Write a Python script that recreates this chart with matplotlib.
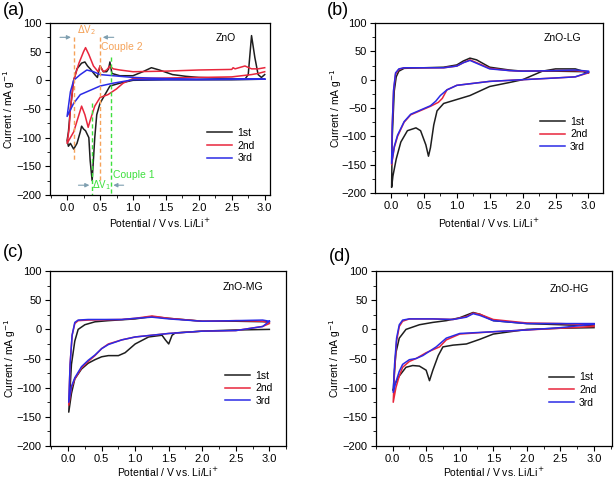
import matplotlib
matplotlib.use("Agg")
import matplotlib.pyplot as plt
from matplotlib.ticker import MultipleLocator

plt.rcParams['font.family'] = ['Liberation Sans', 'DejaVu Sans']

# ---------------- data ----------------
cycle_labels = ["1st", "2nd", "3rd"]
sample_names = ["ZnO", "ZnO-LG", "ZnO-MG", "ZnO-HG"]
panel_tags = ["(a)", "(b)", "(c)", "(d)"]

# (a) ZnO
a1_v = [3.0, 2.5, 2.0, 1.5, 1.0, 0.8, 0.65, 0.6, 0.5, 0.45, 0.42, 0.38, 0.35, 0.33, 0.28, 0.25, 0.22, 0.2, 0.15, 0.1, 0.05, 0.02, 0.0,
        0.02, 0.05, 0.1, 0.15, 0.22, 0.27, 0.31, 0.35, 0.42, 0.46, 0.5, 0.55, 0.6, 0.63, 0.65, 0.68, 0.8, 1.0, 1.15, 1.28, 1.4, 1.6, 1.8, 2.0, 2.5, 2.7, 2.75, 2.8, 2.85, 2.9, 2.95, 3.0]
a1_i = [2, 1, 1, 1, 0, -5, -10, -20, -40, -60, -100, -175, -140, -100, -88, -85, -80, -90, -110, -120, -110, -115, -105,
        -90, -50, 0, 20, 30, 32, 25, 20, 10, 5, 25, 15, 15, 20, 32, 12, 8, 8, 15, 22, 18, 10, 7, 5, 3, 2, 10, 78, 40, 10, 5, 10]
a2_v = [3.0, 2.9, 2.8, 2.5, 2.0, 1.5, 1.0, 0.85, 0.75, 0.62, 0.5, 0.42, 0.35, 0.32, 0.27, 0.22, 0.18, 0.1, 0.05, 0.0,
        0.03, 0.05, 0.1, 0.18, 0.25, 0.28, 0.33, 0.4, 0.47, 0.5, 0.55, 0.6, 0.65, 0.7, 0.8, 1.0, 1.5, 2.0, 2.5, 2.52, 2.55, 2.7, 2.8, 2.9, 3.0]
a2_i = [15, 12, 10, 6, 5, 4, 3, -5, -15, -25, -30, -45, -70, -82, -60, -45, -60, -90, -100, -110,
        -85, -50, 0, 30, 50, 57, 45, 25, 15, 25, 15, 18, 25, 20, 18, 15, 16, 18, 19, 22, 20, 25, 20, 20, 22]
a3_v = [3.0, 2.0, 1.0, 0.7, 0.5, 0.3, 0.2, 0.1, 0.0, 0.05, 0.1, 0.2, 0.3, 0.4, 0.5, 0.7, 1.0, 1.5, 2.0, 3.0]
a3_i = [2, 1, 1, -5, -10, -20, -25, -40, -63, -20, 0, 10, 18, 15, 10, 8, 5, 3, 2, 2]

# (b) ZnO-LG
b1_v = [3.0, 2.8, 2.5, 2.3, 2.1, 2.0, 1.8, 1.5, 1.35, 1.2, 1.0, 0.8, 0.7, 0.65, 0.6, 0.57, 0.53, 0.45, 0.38, 0.25, 0.15, 0.08, 0.03, 0.01,
        0.02, 0.05, 0.08, 0.12, 0.2, 0.5, 0.8, 1.0, 1.1, 1.2, 1.3, 1.5, 1.8, 2.0, 2.5, 3.0]
b1_i = [12, 19, 19, 15, 5, 0, -5, -12, -20, -28, -35, -42, -55, -80, -120, -135, -115, -90, -85, -90, -110, -140, -170, -190,
        -100, -20, 5, 15, 20, 21, 22, 26, 33, 38, 35, 22, 17, 15, 15, 14]
b2_v = [3.0, 2.8, 2.5, 2.0, 1.5, 1.0, 0.85, 0.78, 0.72, 0.6, 0.4, 0.3, 0.2, 0.1, 0.05, 0.01,
        0.02, 0.04, 0.07, 0.12, 0.2, 0.5, 0.8, 1.0, 1.1, 1.2, 1.3, 1.5, 1.8, 2.0, 2.5, 2.8, 3.0]
b2_i = [12, 5, 3, 0, -3, -10, -18, -33, -40, -47, -57, -62, -75, -100, -120, -150,
        -80, -20, 10, 18, 21, 21, 21, 24, 30, 35, 30, 20, 16, 15, 16, 16, 14]
b3_v = [3.0, 2.8, 2.5, 2.0, 1.5, 1.0, 0.85, 0.75, 0.68, 0.6, 0.4, 0.3, 0.2, 0.1, 0.05, 0.01,
        0.02, 0.04, 0.07, 0.12, 0.2, 0.5, 0.8, 1.0, 1.1, 1.2, 1.3, 1.5, 1.8, 2.0, 2.5, 2.8, 3.0]
b3_i = [13, 5, 3, 0, -3, -10, -18, -28, -38, -46, -56, -61, -74, -98, -118, -148,
        -80, -18, 12, 19, 21, 21, 21, 24, 30, 34, 29, 19, 16, 15, 16, 17, 15]

# (c) ZnO-MG
c1_v = [3.0, 2.5, 2.0, 1.6, 1.55, 1.5, 1.45, 1.4, 1.2, 1.0, 0.85, 0.75, 0.6, 0.5, 0.4, 0.3, 0.2, 0.1, 0.05, 0.01,
        0.03, 0.05, 0.1, 0.15, 0.25, 0.4, 0.6, 1.0, 1.25, 1.5, 2.0, 2.5, 3.0]
c1_i = [0, -1, -3, -6, -10, -25, -18, -10, -13, -25, -40, -45, -45, -47, -52, -58, -68, -85, -110, -142,
        -100, -60, -20, 0, 8, 13, 15, 18, 22, 19, 14, 14, 13]
c2_v = [3.0, 2.9, 2.5, 2.0, 1.5, 1.0, 0.8, 0.6, 0.5, 0.4, 0.3, 0.2, 0.1, 0.05, 0.01,
        0.03, 0.06, 0.1, 0.15, 0.3, 0.8, 1.0, 1.25, 1.5, 2.0, 2.5, 2.9, 3.0]
c2_i = [10, 5, -2, -3, -7, -13, -18, -25, -33, -45, -55, -66, -85, -100, -130,
        -60, -10, 10, 15, 16, 17, 19, 23, 19, 14, 15, 14, 11]
c3_v = [3.0, 2.9, 2.5, 2.0, 1.5, 1.0, 0.8, 0.6, 0.5, 0.4, 0.3, 0.2, 0.1, 0.05, 0.01,
        0.03, 0.06, 0.1, 0.15, 0.3, 0.8, 1.0, 1.25, 1.5, 2.0, 2.5, 2.9, 3.0]
c3_i = [14, 5, -2, -3, -7, -13, -18, -26, -33, -44, -53, -64, -83, -98, -125,
        -60, -10, 12, 16, 17, 17, 19, 21, 18, 14, 15, 16, 14]

# (d) ZnO-HG
d1_v = [3.0, 2.5, 2.0, 1.5, 1.3, 1.1, 0.9, 0.75, 0.68, 0.6, 0.55, 0.5, 0.4, 0.3, 0.2, 0.1, 0.03, 0.01,
        0.03, 0.05, 0.1, 0.2, 0.4, 0.6, 0.8, 1.0, 1.2, 1.3, 1.5, 2.0, 2.5, 3.0]
d1_i = [3, 2, 0, -8, -17, -25, -27, -30, -45, -70, -88, -70, -63, -62, -65, -80, -95, -105,
        -70, -40, -15, 0, 8, 12, 15, 20, 29, 26, 15, 10, 8, 6]
d2_v = [3.0, 2.5, 2.0, 1.5, 1.0, 0.8, 0.7, 0.5, 0.35, 0.25, 0.15, 0.1, 0.05, 0.01,
        0.03, 0.06, 0.1, 0.15, 0.25, 0.6, 0.9, 1.1, 1.2, 1.3, 1.5, 2.0, 2.5, 3.0]
d2_i = [5, 2, -1, -4, -8, -18, -30, -40, -50, -55, -65, -80, -100, -125,
        -70, -20, 5, 14, 18, 18, 17, 22, 28, 26, 17, 11, 10, 8]
d3_v = [3.0, 2.5, 2.0, 1.5, 1.0, 0.8, 0.65, 0.45, 0.35, 0.25, 0.15, 0.1, 0.05, 0.01,
        0.03, 0.06, 0.1, 0.15, 0.25, 0.6, 0.9, 1.1, 1.2, 1.3, 1.5, 2.0, 2.5, 3.0]
d3_i = [9, 3, -1, -4, -7, -15, -30, -45, -50, -52, -60, -72, -90, -108,
        -60, -15, 8, 16, 18, 18, 17, 21, 27, 24, 15, 10, 10, 10]

panel_data = [
    [(a1_v, a1_i), (a2_v, a2_i), (a3_v, a3_i)],
    [(b1_v, b1_i), (b2_v, b2_i), (b3_v, b3_i)],
    [(c1_v, c1_i), (c2_v, c2_i), (c3_v, c3_i)],
    [(d1_v, d1_i), (d2_v, d2_i), (d3_v, d3_i)],
]

# annotation positions for (a)
couple2_v = [0.1, 0.5]
couple1_v = [0.38, 0.66]

# ---------------- style ----------------
colors = ['#1e1e1e', '#e8263c', '#2b2be6']
fig = plt.figure(figsize=(6.14, 4.79), dpi=100)
rects = [
    [0.0814, 0.593, 0.3583, 0.359],
    [0.611, 0.597, 0.371, 0.355],
    [0.0814, 0.069, 0.3846, 0.365],
    [0.612, 0.069, 0.385, 0.365],
]
xlims = [(-0.26, 3.08), (-0.24, 3.22), (-0.27, 3.25), (-0.25, 3.27)]
legend_anchor = [(0.69, 0.42), (0.70, 0.48), (0.72, 0.46), (0.71, 0.45)]
name_pos = [(2.25, 74), (2.32, 73), (2.31, 72), (2.34, 69)]
tag_pos = [(0.005, 0.978), (0.532, 0.978), (0.005, 0.472), (0.535, 0.465)]
ylabel_x = [-0.15, -0.136, -0.137, -0.138]
xlabel_y = [-0.13, -0.14, -0.115, -0.115]
xlabel_x = [0.5, 0.5, 0.5, 0.5]

fs = 7.5
fs_tick = 8
for k in range(4):
    ax = fig.add_axes(rects[k])
    for j in range(3):
        v, i = panel_data[k][j]
        ax.plot(v, i, color=colors[j], lw=1.1, label=cycle_labels[j])
    ax.set_xlim(*xlims[k])
    ax.set_ylim(-200, 100)
    ax.xaxis.set_major_locator(MultipleLocator(0.5))
    ax.xaxis.set_minor_locator(MultipleLocator(0.25))
    ax.yaxis.set_major_locator(MultipleLocator(50))
    ax.yaxis.set_minor_locator(MultipleLocator(25))
    ax.tick_params(which='major', direction='out', length=3.5, width=0.8, labelsize=fs_tick, top=False, right=False, pad=2.5)
    ax.tick_params(which='minor', direction='out', length=2, width=0.6, top=False, right=False)
    ax.xaxis.set_major_formatter(matplotlib.ticker.FormatStrFormatter('%.1f'))
    for s in ax.spines.values():
        s.set_linewidth(0.9)
    ax.set_xlabel('Potential / V vs. Li/Li$^{+}$', fontsize=fs)
    ax.set_ylabel('Current / mA g$^{-1}$', fontsize=fs)
    ax.xaxis.set_label_coords(xlabel_x[k], xlabel_y[k])
    ax.yaxis.set_label_coords(ylabel_x[k], 0.5)
    ax.text(name_pos[k][0], name_pos[k][1], sample_names[k], fontsize=fs, ha='left', va='center')
    ax.legend(loc='upper left', bbox_to_anchor=legend_anchor[k], frameon=False, fontsize=fs,
              handlelength=2.4, handletextpad=0.5, labelspacing=0.25, borderpad=0)
    fig.text(tag_pos[k][0], tag_pos[k][1], panel_tags[k], fontsize=13, ha='left', va='center')

    if k == 0:
        orange = '#f5a35a'
        green = '#3ee03e'
        ax.plot([couple2_v[0]] * 2, [75, -140], ls=(0, (3, 2)), color=orange, lw=1.0)
        ax.plot([couple2_v[1]] * 2, [75, -175], ls=(0, (3, 2)), color=orange, lw=1.0)
        ax.plot([couple1_v[0]] * 2, [-40, -200], ls=(0, (3, 2)), color=green, lw=1.0)
        ax.plot([couple1_v[1]] * 2, [40, -200], ls=(0, (3, 2)), color=green, lw=1.0)
        arr = dict(arrowstyle='-|>', color='#7f9fb0', lw=0.8, mutation_scale=6)
        ax.annotate('', xy=(couple2_v[0], 75), xytext=(-0.15, 75), arrowprops=arr)
        ax.annotate('', xy=(couple2_v[1], 75), xytext=(0.75, 75), arrowprops=arr)
        ax.annotate('', xy=(couple1_v[0], -183), xytext=(0.13, -183), arrowprops=arr)
        ax.annotate('', xy=(couple1_v[1], -183), xytext=(0.9, -183), arrowprops=arr)
        ax.text(0.3, 76, r'$\Delta$V$_2$', color=orange, fontsize=7, ha='center', va='bottom')
        ax.text(0.52, 58, 'Couple 2', color=orange, fontsize=fs, ha='left', va='center')
        ax.text(0.52, -183, r'$\Delta$V$_1$', color=green, fontsize=7, ha='center', va='center')
        ax.text(0.7, -165, 'Couple 1', color=green, fontsize=fs, ha='left', va='center')

fig.savefig('out.png', dpi=100)
